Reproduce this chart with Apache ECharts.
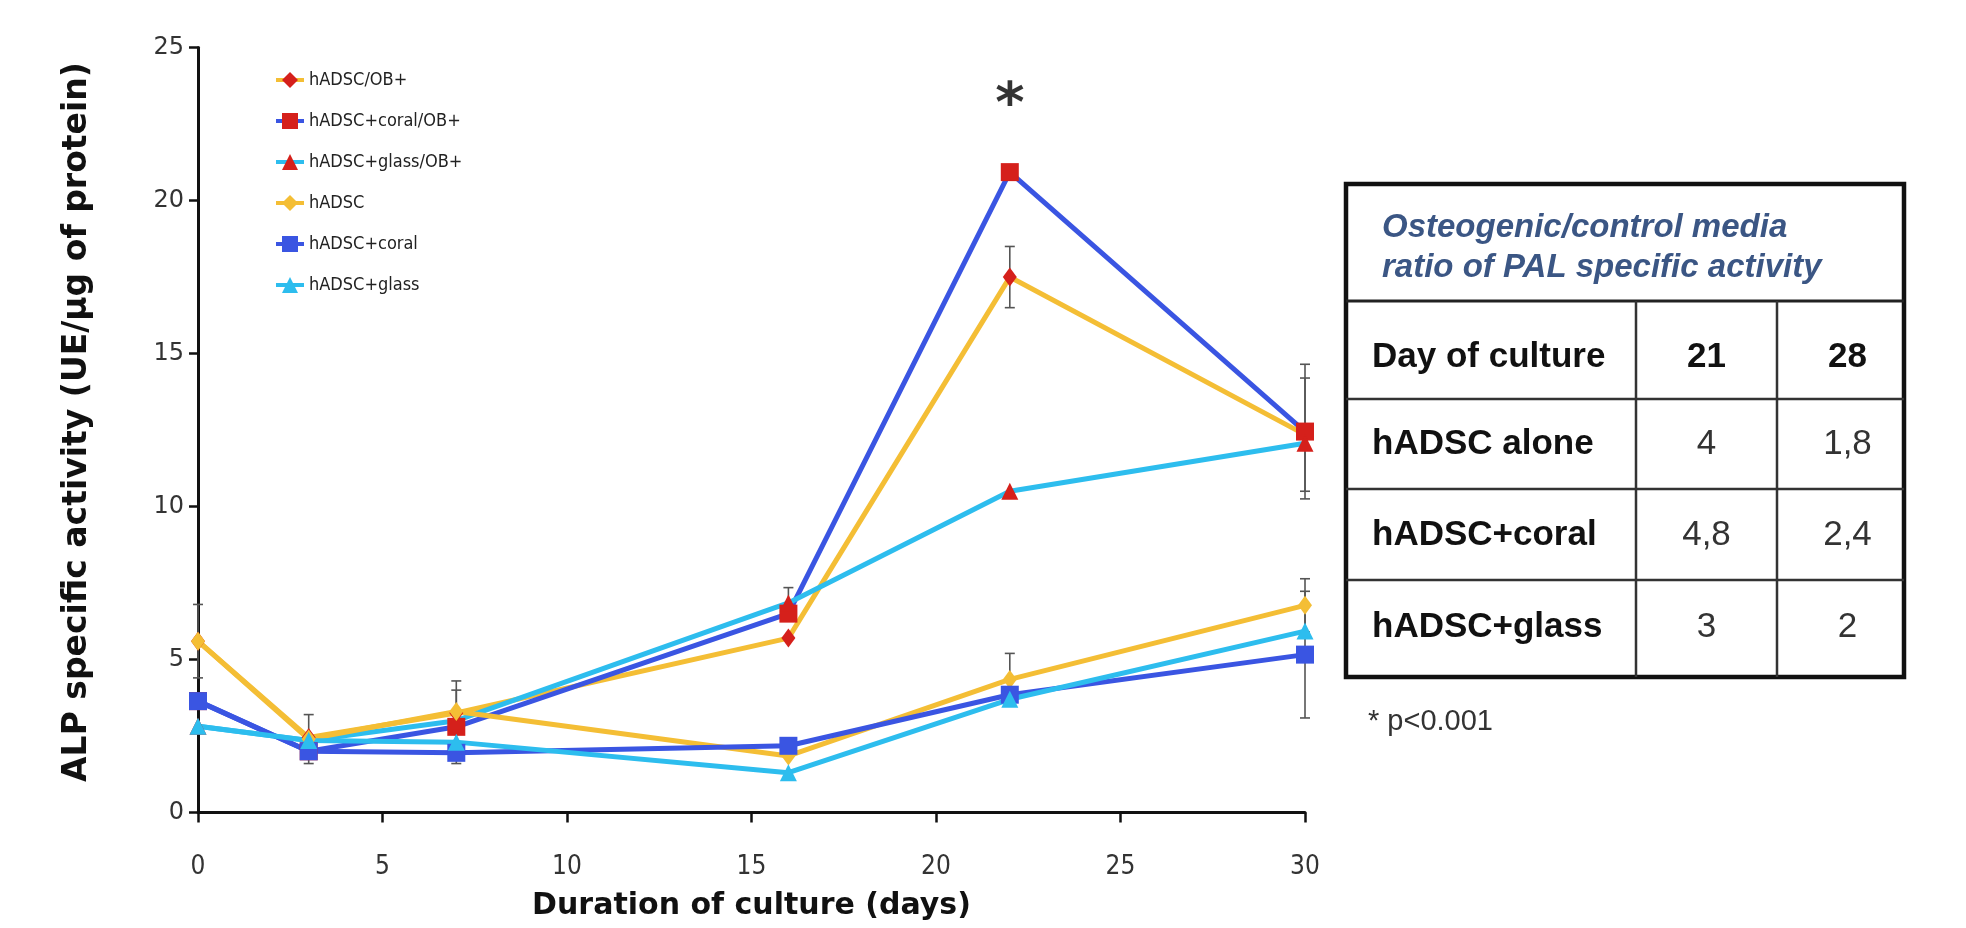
<!DOCTYPE html>
<html><head><meta charset="utf-8">
<script src="https://cdn.jsdelivr.net/npm/echarts@6/dist/echarts.min.js"></script>
<style>html,body{margin:0;padding:0;background:#fff}#c{width:1966px;height:928px}</style>
</head><body><div id="c"></div>
<script>
// ---- data ----
const days = [0, 3, 7, 16, 22, 30];
const seriesNames = ['hADSC/OB+', 'hADSC+coral/OB+', 'hADSC+glass/OB+', 'hADSC', 'hADSC+coral', 'hADSC+glass'];
const hADSC_OB = [5.6, 2.45, 3.25, 5.7, 17.5, 12.35];
const coral_OB = [3.64, 2.0, 2.8, 6.5, 20.93, 12.45];
const glass_OB = [2.82, 2.35, 3.0, 6.85, 10.5, 12.07];
const hADSC = [5.6, 2.4, 3.3, 1.85, 4.35, 6.77];
const coral = [3.64, 2.0, 1.95, 2.18, 3.85, 5.16];
const glass = [2.82, 2.35, 2.3, 1.3, 3.7, 5.93];
// error bars: [day, low, high]
const errorBars = [[0, 4.4, 6.8], [3, 1.6, 3.2], [7, 2.3, 4.3], [7, 1.6, 4.0], [16, 6.35, 7.35],
  [22, 16.5, 18.5], [22, 3.5, 5.2], [30, 10.25, 14.65], [30, 10.5, 14.2], [30, 5.9, 7.64], [30, 3.09, 7.23]];
const significance = [[22, 23.4]];
const xTicks = [0, 5, 10, 15, 20, 25, 30];
const yTicks = [0, 5, 10, 15, 20, 25];
const tableTitle = ['Osteogenic/control media', 'ratio of PAL specific activity'];
const tableHead = ['Day of culture', '21', '28'];
const tableRows = [['hADSC alone', '4', '1,8'], ['hADSC+coral', '4,8', '2,4'], ['hADSC+glass', '3', '2']];
const footnote = '* p<0.001';

// ---- styles ----
const YEL = '#F4BE35', BLUE = '#3A55E2', CYAN = '#2DBDEE', RED = '#D5201B';
const COND = "'DejaVu Sans Condensed','Liberation Sans Narrow','DejaVu Sans',sans-serif";
const VER = "'DejaVu Sans',Verdana,sans-serif";
const ARIAL = "'Liberation Sans',Arial,sans-serif";

function lineSeries(name, vals, lineColor, markColor, symbol, size) {
  return {
    name, type: 'line', data: days.map((d, i) => [d, vals[i]]),
    symbol, symbolSize: size, showAllSymbol: true,
    lineStyle: { color: lineColor, width: 5 },
    itemStyle: { color: markColor, borderWidth: 0 },
    emphasis: { disabled: true }, animation: false
  };
}

const series = [
  lineSeries(seriesNames[0], hADSC_OB, YEL, RED, 'diamond', [14, 19]),
  lineSeries(seriesNames[1], coral_OB, BLUE, RED, 'rect', 18),
  lineSeries(seriesNames[2], glass_OB, CYAN, RED, 'triangle', 17),
  lineSeries(seriesNames[3], hADSC, YEL, YEL, 'diamond', [14, 19]),
  lineSeries(seriesNames[4], coral, BLUE, BLUE, 'rect', 18),
  lineSeries(seriesNames[5], glass, CYAN, CYAN, 'triangle', 17),
  {
    type: 'custom', name: 'err', data: errorBars, z: 3, animation: false,
    encode: { x: 0, y: [1, 2] },
    renderItem: function (params, api) {
      const x = api.value(0);
      const lo = api.coord([x, api.value(1)]);
      const hi = api.coord([x, api.value(2)]);
      const w = 5, st = { stroke: '#555', lineWidth: 1.6 };
      return { type: 'group', children: [
        { type: 'line', shape: { x1: lo[0], y1: lo[1], x2: hi[0], y2: hi[1] }, style: st },
        { type: 'line', shape: { x1: hi[0] - w, y1: hi[1], x2: hi[0] + w, y2: hi[1] }, style: st },
        { type: 'line', shape: { x1: lo[0] - w, y1: lo[1], x2: lo[0] + w, y2: lo[1] }, style: st }
      ]};
    }
  },
  {
    type: 'scatter', name: 'sig', data: significance, symbolSize: 1, animation: false,
    itemStyle: { color: 'rgba(0,0,0,0)' },
    label: { show: true, position: 'inside', formatter: '*', fontFamily: VER, fontWeight: 'bold', fontSize: 56, color: '#000', offset: [0, 10] }
  }
];

// table graphics
const tL = 1346, tR = 1904, tT = 184, tB = 677;
const hSep = 301, rowLines = [399, 489, 580];
const colLines = [1636, 1777];
const rowCenters = [357, 444, 535, 627];
const colCenters = [1372, (colLines[0] + colLines[1]) / 2, (colLines[1] + tR) / 2 + 7];
const g = [];
g.push({ type: 'rect', shape: { x: tL, y: tT, width: tR - tL, height: tB - tT }, style: { fill: '#fff', stroke: '#111', lineWidth: 4.5 }, z: 10 });
g.push({ type: 'line', shape: { x1: tL, y1: hSep, x2: tR, y2: hSep }, style: { stroke: '#222', lineWidth: 3 }, z: 11 });
rowLines.forEach(y => g.push({ type: 'line', shape: { x1: tL, y1: y, x2: tR, y2: y }, style: { stroke: '#333', lineWidth: 2.5 }, z: 11 }));
colLines.forEach(x => g.push({ type: 'line', shape: { x1: x, y1: hSep, x2: x, y2: tB }, style: { stroke: '#333', lineWidth: 2.5 }, z: 11 }));
g.push({ type: 'text', z: 12, style: { text: tableTitle[0], x: 1382, y: 228, font: 'italic bold 33px ' + ARIAL, fill: '#3b5684', textVerticalAlign: 'middle' } });
g.push({ type: 'text', z: 12, style: { text: tableTitle[1], x: 1382, y: 268, font: 'italic bold 33px ' + ARIAL, fill: '#3b5684', textVerticalAlign: 'middle' } });
const allRows = [tableHead].concat(tableRows);
allRows.forEach((r, i) => {
  r.forEach((cell, j) => {
    const bold = (j === 0 || i === 0);
    g.push({ type: 'text', z: 12, style: {
      text: cell, x: colCenters[j], y: rowCenters[i],
      font: (bold ? 'bold ' : '') + '35px ' + ARIAL, fill: bold ? '#111' : '#333',
      textAlign: j === 0 ? 'left' : 'center', textVerticalAlign: 'middle' } });
  });
});
g.push({ type: 'text', z: 12, style: { text: footnote, x: 1368, y: 722, font: '29px ' + ARIAL, fill: '#333', textVerticalAlign: 'middle' } });

const option = {
  backgroundColor: '#fff',
  animation: false,
  grid: { left: 198, right: 661, top: 47.6, bottom: 115.5, containLabel: false },
  legend: {
    data: seriesNames, orient: 'vertical', left: 269, top: 65,
    itemWidth: 28, itemHeight: 20, itemGap: 21,
    lineStyle: { width: 4 },
    textStyle: { fontFamily: COND, fontSize: 18, color: '#222', lineHeight: 20 },
    selectedMode: false
  },
  xAxis: {
    type: 'value', min: 0, max: 30, interval: 5,
    axisLine: { show: true, onZero: false, lineStyle: { color: '#111', width: 3 } },
    axisTick: { show: true, length: 10, lineStyle: { color: '#111', width: 2.5 } },
    splitLine: { show: false },
    axisLabel: { fontFamily: COND, fontSize: 26, color: '#333', margin: 42,
      formatter: v => (xTicks.indexOf(v) >= 0 ? String(v) : '') },
    name: 'Duration of culture (days)', nameLocation: 'middle', nameGap: 79,
    nameTextStyle: { fontFamily: VER, fontWeight: 'bold', fontSize: 30, color: '#111' }
  },
  yAxis: {
    type: 'value', min: 0, max: 25, interval: 5,
    axisLine: { show: true, lineStyle: { color: '#111', width: 3 } },
    axisTick: { show: true, length: 9, lineStyle: { color: '#111', width: 2.5 } },
    splitLine: { show: false },
    axisLabel: { fontFamily: VER, fontSize: 24, color: '#333', margin: 14,
      formatter: v => (yTicks.indexOf(v) >= 0 ? String(v) : '') },
    name: 'ALP specific activity (UE/µg of protein)', nameLocation: 'middle', nameGap: 104,
    nameTextStyle: { fontFamily: VER, fontWeight: 'bold', fontSize: 33, color: '#111', padding: [0, 0, 0, 16] }
  },
  series: series,
  graphic: g
};
const chart = echarts.init(document.getElementById('c'), null, { renderer: 'canvas' });
chart.setOption(option);
</script></body></html>
